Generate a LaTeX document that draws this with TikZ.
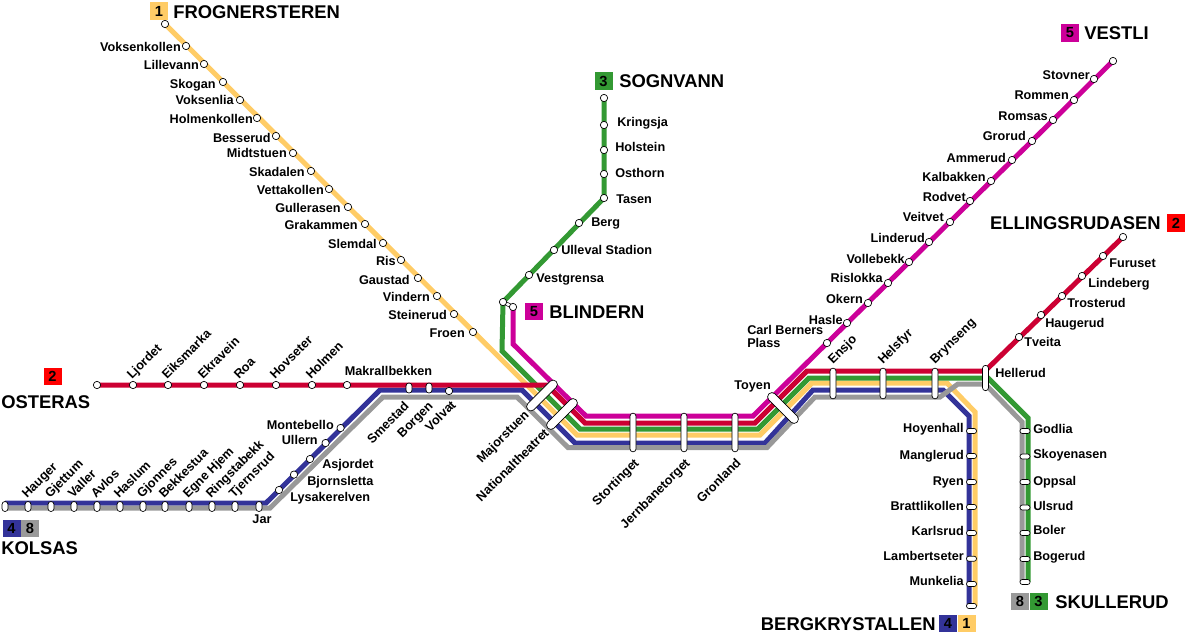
\documentclass[tikz,border=0pt]{standalone}
\usepackage{fontspec}
\setmainfont{Liberation Sans}
\usepackage{xcolor}
\usetikzlibrary{backgrounds}
\definecolor{lineone}{RGB}{255,204,102}
\definecolor{linetwo}{RGB}{204,0,51}
\definecolor{linethree}{RGB}{51,153,51}
\definecolor{linefour}{RGB}{51,51,153}
\definecolor{linefive}{RGB}{204,0,153}
\definecolor{lineeight}{RGB}{153,153,153}

\begin{document}
\begin{tikzpicture}[
  x=0.75pt, y=-0.75pt,
  stn/.style={circle, draw=black, fill=white, line width=0.5pt, minimum size=5.5pt, inner sep=0pt},
  vcap/.style={rectangle, rounded corners=2.2pt, draw=black, fill=white, line width=0.5pt, minimum width=4.5pt, inner sep=0pt},
  hcap/.style={rectangle, rounded corners=1.8pt, draw=black, fill=white, line width=0.5pt, minimum width=7.5pt, minimum height=3.8pt, inner sep=0pt},
  slant/.style={rectangle, rounded corners=3.2pt, draw=black, fill=white, line width=0.5pt, minimum width=30pt, minimum height=6.5pt, inner sep=0pt},
  track/.style={line width=3.75pt},
  lbl/.style={inner sep=0pt, text height=6.8pt, text depth=0.8pt, font=\fontsize{9.5}{9.6}\selectfont\bfseries},
  big/.style={inner sep=0pt, text height=10pt, text depth=0pt, font=\fontsize{13.8}{15}\selectfont\bfseries},
  badge/.style={minimum width=13.5pt, minimum height=13pt, inner sep=0pt, font=\fontsize{11}{12}\selectfont\bfseries},
]
  \useasboundingbox (0,0) rectangle (1185,636);

  % stations with the label left of them
  \foreach \t/\x/\y/\lx/\ly in {Voksenkollen/186/46/181/47, Lillevann/204/64/199/65, Skogan/223/82/216/84,
    Voksenlia/240/100/234/100, Holmenkollen/257/118/253/119, Besserud/276/136/271/138, Midtstuen/293/153/287/153,
    Skadalen/311/171/305/172, Vettakollen/329/189/324/190, Gullerasen/348/207/341/208, Grakammen/365/224/358/225,
    Slemdal/383/243/377/244, Ris/401/260/396/261, Gaustad/418/278/410/280, Vindern/437/296/430/297,
    Steinerud/454/314/447/315, Froen/473/332/465/333,
    Stovner/1094/79/1090/75, Rommen/1074/100/1069/95, Romsas/1053/120/1048/116, Grorud/1032/141/1026/136,
    Ammerud/1012/160/1006/158, Kalbakken/991/181/986/177, Rodvet/970/201/966/197, Veitvet/950/222/944/217,
    Linderud/929/242/925/238, Vollebekk/909/262/905/259, Rislokka/888/283/883/278, Okern/868/303/863/299,
    Hasle/847/323/843/320, Montebello/340.6/428/334/425, Ullern/325.6/443/318/440}
    \node[stn] (\t) at (\x,\y) {} (\lx,\ly) node[lbl, anchor=east] (\t-name) {\t};

  % stations with the label right of them
  \foreach \t/\x/\y/\lx/\ly in {Kringsja/604/125/617/122, Holstein/604/150/615/147, Osthorn/604/174/615/173,
    Tasen/604/198/616/199, Berg/579/223/591/222, Ulleval Stadion/554/250/561/250, Vestgrensa/529/275/536/278,
    Tveita/1019/337/1024/342, Haugerud/1041/315/1045/323, Trosterud/1062/296/1067/303,
    Lindeberg/1082/276/1088/283, Furuset/1103/256/1109/263, Asjordet/310/459/322/464,
    Bjornsletta/294/474.6/307/481, Lysakerelven/279/490/290/497}
    \node[stn] (\t) at (\x,\y) {} (\lx,\ly) node[lbl, anchor=west] (\t-name) {\t};

  % western line, names go up
  \foreach \t/\x in {Ljordet/133, Eiksmarka/168, Ekravein/204, Roa/240, Hovseter/276, Holmen/312}
    \node[stn] (\t) at (\x,385) {} (\x-4,377) node[lbl, rotate=45, anchor=west] (\t-name) {\t};
  \node[stn] (Makrallbekken) at (347,385) {};
  \node[lbl] (Makrallbekken-name) at (388.5,371) {Makrallbekken};
  \node[stn] (Volvat) at (449,391) {};
  \node[lbl, rotate=45, anchor=east] (Volvat-name) at (454,403) {Volvat};
  \node[vcap, minimum height=7.5pt] (Smestad) at (409,388) {};
  \node[lbl, rotate=45, anchor=east] (Smestad-name) at (407,404) {Smestad};
  \node[vcap, minimum height=7.5pt] (Borgen) at (429,388) {};
  \node[lbl, rotate=45, anchor=east] (Borgen-name) at (431,404) {Borgen};

  % Kolsas branch
  \foreach \t/\x in {Hauger/28, Gjettum/51, Valler/74, Avlos/97, Haslum/120, Gjonnes/143, Bekkestua/165,
    Egne Hjem/189, Ringstabekk/212, Tjernsrud/235}
    \node[vcap, minimum height=7.5pt] (\t) at (\x,506.5) {} (\x-4,496) node[lbl, rotate=45, anchor=west] (\t-name) {\t};
  \node[vcap, minimum height=7.5pt] (Kolsas) at (5,506.5) {};
  \node[vcap, minimum height=7.5pt] (Jar) at (259,506.5) {};
  \node[lbl] (Jar-name) at (262,519) {Jar};

  % common section
  \node[slant, rotate=45] (Majorstuen) at (542,395.5) {};
  \node[lbl, rotate=45, anchor=east] (Majorstuen-name) at (527,413) {Majorstuen};
  \node[slant, rotate=45] (Nationaltheatret) at (562,414) {};
  \node[lbl, rotate=45, anchor=east] (Nationaltheatret-name) at (547,431) {Nationaltheatret};
  \foreach \t/\x in {Stortinget/633, Jernbanetorget/684, Gronland/735}
    \node[vcap, minimum height=29pt] (\t) at (\x,432.5) {} (\x+4,461) node[lbl, rotate=45, anchor=east] (\t-name) {\t};
  \node[slant, rotate=-45] (Toyen) at (783,408) {};
  \node[lbl, anchor=east] (Toyen-name) at (771,385) {Toyen};
  \node[stn] (Carl Berners) at (827,343) {};
  \node[lbl, align=left, anchor=west] (Carl Berners-name) at (747,343) {Carl Berners\\Plass};
  \foreach \t/\x in {Ensjo/833, Helsfyr/883, Brynseng/935}
    \node[vcap, minimum height=23pt] (\t) at (\x,383.5) {} (\x-3,362) node[lbl, rotate=45, anchor=west] (\t-name) {\t};
  \node[vcap, minimum height=19pt] (Hellerud) at (985.5,378) {};
  \node[lbl, anchor=west] (Hellerud-name) at (995,373) {Hellerud};

  % the two southern branches
  \foreach \t/\y/\ly in {Hoyenhall/431/428, Manglerud/456/455, Ryen/482/481, Brattlikollen/507/506,
    Karlsrud/533/531, Lambertseter/558.7/556, Munkelia/584/581}
    \node[hcap] (\t) at (971.5,\y) {} (964,\ly) node[lbl, anchor=east] (\t-name) {\t};
  \node[hcap] (Bergkrystallen) at (971.5,606) {};
  \foreach \t/\y/\ly in {Godlia/431/429, Skoyenasen/456.5/454, Oppsal/482/481, Ulsrud/507.5/506, Boler/533/530, Bogerud/559/556}
    \node[hcap] (\t) at (1025,\y) {} (1033,\ly) node[lbl, anchor=west] (\t-name) {\t};
  \node[hcap] (Skullerud) at (1025,582) {};

  % end stations
  \node[stn] (Frognersteren) at (165,24) {};
  \node[stn] (Sognvann) at (604,98) {};
  \node[stn] (Vestli) at (1113,61) {};
  \node[stn] (Ellingsrudasen) at (1123,237) {};
  \node[stn] (Osteras) at (97,385) {};
  \node[stn] (Blindern-a) at (503,302) {};
  \node[stn] (Blindern-b) at (513,307) {};

  % big names and line numbers
  \node[badge, fill=lineone] (badge-1a) at (159,11) {1};
  \node[big, anchor=west] (Frognersteren-name) at (173,12) {FROGNERSTEREN};
  \node[badge, fill=linethree] (badge-3a) at (603.5,81) {3};
  \node[big, anchor=west] (Sognvann-name) at (619,81) {SOGNVANN};
  \node[badge, fill=linefive] (badge-5a) at (1070,33) {5};
  \node[big, anchor=west] (Vestli-name) at (1084,33) {VESTLI};
  \node[badge, fill=red] (badge-2a) at (1176,223) {2};
  \node[big, anchor=east] (Ellingsrudasen-name) at (1161,223) {ELLINGSRUDASEN};
  \node[badge, fill=linefive] (badge-5b) at (534,311.5) {5};
  \node[big, anchor=west] (Blindern-name) at (549,311.5) {BLINDERN};
  \node[badge, fill=red] (badge-2b) at (52.5,376.5) {2};
  \node[big, anchor=west] (Osteras-name) at (1,402) {OSTERAS};
  \node[badge, fill=linefour] (badge-4a) at (11.5,528.5) {4};
  \node[badge, fill=lineeight] (badge-8a) at (30,528.5) {8};
  \node[big, anchor=west] (Kolsas-name) at (1,548) {KOLSAS};
  \node[badge, fill=lineeight] (badge-8b) at (1020,601.5) {8};
  \node[badge, fill=linethree] (badge-3b) at (1038.5,601.5) {3};
  \node[big, anchor=west] (Skullerud-name) at (1055,601.5) {SKULLERUD};
  \node[big, anchor=east] (Bergkrystallen-name) at (936,624) {BERGKRYSTALLEN};
  \node[badge, fill=linefour] (badge-4b) at (948,623.5) {4};
  \node[badge, fill=lineone] (badge-1b) at (966.5,623.5) {1};

  \begin{scope}[on background layer]
    \coordinate (a1) at (577,435);
    \coordinate (a2) at (760,435);
    \coordinate (a3) at (812,383);
    \coordinate (a4) at (947,383);
    \coordinate (a5) at (975,412);
    \coordinate (a6) at (975,606);
    \draw[track, lineone] (Frognersteren.center) -- (a1) -- (a2) -- (a3) -- (a4) -- (a5) -- (a6);

    \coordinate (d0) at (5,503);
    \coordinate (d1) at (266,503);
    \coordinate (d2) at (380,390);
    \coordinate (d3) at (522,390);
    \coordinate (d4) at (575,443);
    \coordinate (d5) at (765,443);
    \coordinate (d6) at (813,390);
    \coordinate (d7) at (943,390);
    \coordinate (d8) at (969,416);
    \coordinate (d9) at (969,606);
    \draw[track, linefour] (d0) -- (d1) -- (d2) -- (d3) -- (d4) -- (d5) -- (d6) -- (d7) -- (d8) -- (d9);

    \coordinate (e0) at (5,508);
    \coordinate (e1) at (270,508);
    \coordinate (e2) at (383,397);
    \coordinate (e3) at (517,397);
    \coordinate (e4) at (568,447.5);
    \coordinate (e5) at (767,447.5);
    \coordinate (e6) at (815,397);
    \coordinate (e7) at (940,397);
    \coordinate (e8) at (958,384);
    \coordinate (e9) at (985,384);
    \coordinate (e10) at (1022,422);
    \coordinate (e11) at (1022,582);
    \draw[track, lineeight] (e0) -- (e1) -- (e2) -- (e3) -- (e4) -- (e5) -- (e6) -- (e7) -- (e8) -- (e9) -- (e10) -- (e11);

    \coordinate (c1) at (502,351);
    \coordinate (c2) at (580,429);
    \coordinate (c3) at (758,429);
    \coordinate (c4) at (809,378);
    \coordinate (c5) at (988,378);
    \coordinate (c6) at (1028,418);
    \coordinate (c7) at (1028,582);
    \draw[track, linethree] (Sognvann.center) -- (Tasen.center) -- (Blindern-a.center) -- (c1) -- (c2) -- (c3) -- (c4) -- (c5) -- (c6) -- (c7);

    \coordinate (b1) at (547,385);
    \coordinate (b2) at (585,423);
    \coordinate (b3) at (755,423);
    \coordinate (b4) at (807,371);
    \coordinate (b5) at (985,371);
    \draw[track, linetwo] (Osteras.center) -- (b1) -- (b2) -- (b3) -- (b4) -- (b5) -- (Ellingsrudasen.center);

    \coordinate (f1) at (513,344);
    \coordinate (f2) at (586,416);
    \coordinate (f3) at (753,416);
    \draw[track, linefive] (Vestli.center) -- (f3) -- (f2) -- (f1) -- (Blindern-b.center);

    \draw[line width=3pt, black] (Blindern-a.center) -- (Blindern-b.center);
    \draw[line width=2pt, white] (Blindern-a.center) -- (Blindern-b.center);
  \end{scope}
\end{tikzpicture}
\end{document}
